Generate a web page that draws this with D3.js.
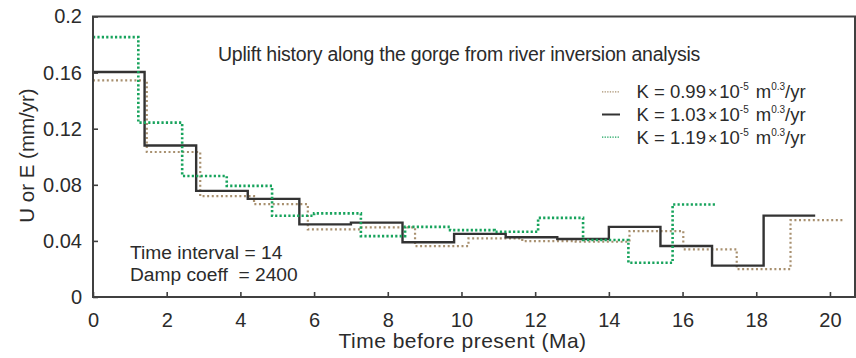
<!DOCTYPE html>
<html>
<head>
<meta charset="utf-8">
<script src="https://cdn.jsdelivr.net/npm/d3@7/dist/d3.min.js"></script>
<style>
  html, body { margin: 0; padding: 0; background: #fff; }
  svg { display: block; }
  text { font-family: "Liberation Sans", Arial, Helvetica, sans-serif; fill: #2b2b2b; }
</style>
</head>
<body>
<svg id="chart" width="856" height="358"></svg>
<script>
// Inverted uplift-rate histories (step functions) for three erodibility values K
const timesK099 = [0, 1.46, 2.91, 4.37, 5.83, 7.28, 8.74, 10.19, 11.65, 13.10, 14.56, 16.02, 17.47, 18.93, 20.38];
const upliftK099 = [0.1545, 0.1034, 0.0719, 0.0662, 0.0482, 0.0496, 0.0363, 0.0418, 0.0399, 0.0394, 0.0470, 0.0340, 0.0199, 0.0548];

const timesK103 = [0, 1.4, 2.8, 4.2, 5.6, 7.0, 8.4, 9.8, 11.2, 12.6, 14.0, 15.4, 16.8, 18.2, 19.6];
const upliftK103 = [0.1604, 0.1080, 0.0757, 0.0700, 0.0518, 0.0530, 0.0390, 0.0450, 0.0426, 0.0414, 0.0500, 0.0364, 0.0224, 0.0580];

const timesK119 = [0, 1.23, 2.42, 3.63, 4.86, 6.0, 7.27, 8.47, 9.69, 10.9, 12.08, 13.3, 14.53, 15.73, 16.88];
const upliftK119 = [0.1853, 0.1243, 0.0863, 0.0792, 0.0579, 0.0596, 0.0434, 0.0500, 0.0477, 0.0465, 0.0564, 0.0406, 0.0244, 0.0660];

const seriesNames = ["0.99", "1.03", "1.19"];
const xTicks = [0, 2, 4, 6, 8, 10, 12, 14, 16, 18, 20];
const yTicks = [0, 0.04, 0.08, 0.12, 0.16, 0.2];
const yTickLabels = ["0", "0.04", "0.08", "0.12", "0.16", "0.2"];

const titleText = "Uplift history along the gorge from river inversion analysis";
const xTitle = "Time before present (Ma)";
const yTitle = "U or E (mm/yr)";
const noteLines = ["Time interval = 14", "Damp coeff  = 2400"];

const svg = d3.select("#chart");
const plot = { left: 93, right: 855, top: 16.5, bottom: 297 };

const x = d3.scaleLinear().domain([0, 20.68]).range([plot.left, plot.right]);
const y = d3.scaleLinear().domain([0, 0.2]).range([plot.bottom, plot.top]);

// Series styling
const styles = [
  { times: timesK099, values: upliftK099, color: "#a8906f", width: 2.2, dash: "2,2.6" },
  { times: timesK103, values: upliftK103, color: "#333333", width: 2.4, dash: null },
  { times: timesK119, values: upliftK119, color: "#17a35c", width: 2.6, dash: "2.2,2.2" }
];

// Axes with inward ticks
const xAxis = d3.axisBottom(x).tickValues(xTicks).tickSizeInner(-5).tickSizeOuter(0).tickPadding(16)
  .tickFormat(d3.format("d"));
const yAxis = d3.axisLeft(y).tickValues(yTicks).tickSizeInner(-5).tickSizeOuter(0).tickPadding(11)
  .tickFormat((d, i) => yTickLabels[i]);

const gx = svg.append("g").attr("transform", `translate(0,${plot.bottom})`).call(xAxis);
const gy = svg.append("g").attr("transform", `translate(${plot.left},0)`).call(yAxis);
[gx, gy].forEach(g => {
  g.select(".domain").remove();
  g.selectAll(".tick line").attr("stroke", "#404040").attr("stroke-width", 1.6);
  g.selectAll(".tick text").attr("font-size", 20).attr("fill", "#2b2b2b")
    .style("font-family", "'Liberation Sans', Arial, sans-serif");
});

// Step lines
const stepLine = d3.line().x(d => x(d[0])).y(d => y(d[1])).curve(d3.curveStepAfter);
styles.forEach(s => {
  const pts = s.values.map((v, k) => [s.times[k], v]);
  pts.push([s.times[s.times.length - 1], s.values[s.values.length - 1]]);
  const p = svg.append("path").datum(pts)
    .attr("d", stepLine)
    .attr("fill", "none")
    .attr("stroke", s.color)
    .attr("stroke-width", s.width)
    .attr("stroke-linejoin", "miter");
  if (s.dash) p.attr("stroke-dasharray", s.dash);
});

// Plot frame
svg.append("rect")
  .attr("x", plot.left).attr("y", plot.top)
  .attr("width", plot.right - plot.left).attr("height", plot.bottom - plot.top)
  .attr("fill", "none").attr("stroke", "#404040").attr("stroke-width", 2);

// Title inside the plot
svg.append("text").attr("x", 218).attr("y", 60.5)
  .attr("font-size", 19.5).attr("letter-spacing", -0.22)
  .text(titleText);

// Axis titles
svg.append("text").attr("x", (335 + 590) / 2).attr("y", 348)
  .attr("text-anchor", "middle").attr("font-size", 21).attr("letter-spacing", 0.5)
  .text(xTitle);
svg.append("text")
  .attr("transform", `translate(33.5,155.5) rotate(-90)`)
  .attr("text-anchor", "middle").attr("font-size", 20.5)
  .text(yTitle);

// Inversion parameters
noteLines.forEach((t, i) => {
  svg.append("text").attr("x", 130).attr("y", 259.3 + i * 21.4)
    .attr("font-size", 19.2).attr("xml:space", "preserve").style("white-space", "pre")
    .text(t);
});

// Legend
const legendY = [98.3, 121, 143.7];
styles.forEach((s, i) => {
  const cy = legendY[i] - 6.5;
  const l = svg.append("line").attr("x1", 602).attr("x2", 620).attr("y1", cy).attr("y2", cy)
    .attr("stroke", s.color).attr("stroke-width", s.dash ? 1.3 : 2);
  if (s.dash) l.attr("stroke-dasharray", "1.3,1.3");
  const t = svg.append("text").attr("x", 636.5).attr("y", legendY[i]).attr("font-size", 18.5);
  t.append("tspan").text(`K = ${seriesNames[i]}`);
  t.append("tspan").attr("dx", 2).attr("font-size", 16).text("\u00d7");
  t.append("tspan").attr("dx", 2).text("10");
  t.append("tspan").attr("dy", -8).attr("font-size", 10).text("-5");
  t.append("tspan").attr("dy", 8).attr("dx", 7).text("m");
  t.append("tspan").attr("dy", -8).attr("font-size", 10).text("0.3");
  t.append("tspan").attr("dy", 8).text("/yr");
});
</script>
</body>
</html>
